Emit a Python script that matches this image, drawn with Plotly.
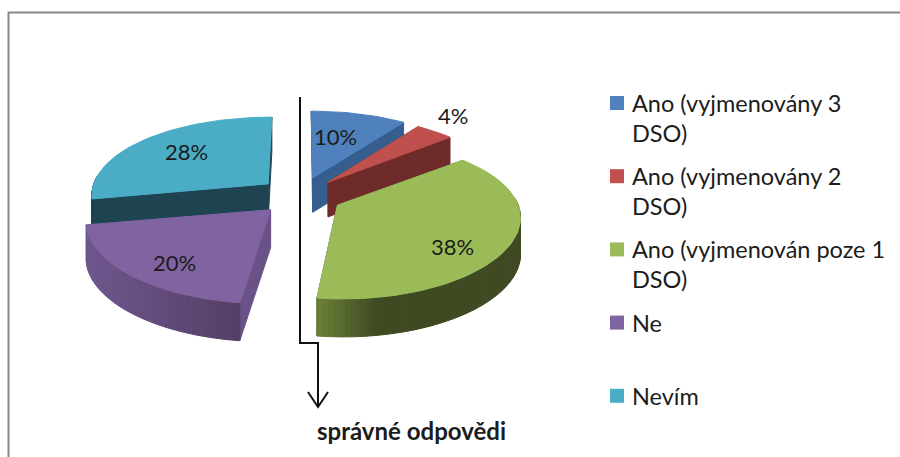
import math
import plotly.graph_objects as go

# ---------- data ----------
categories = ["Ano (vyjmenovány 3 DSO)", "Ano (vyjmenovány 2 DSO)",
              "Ano (vyjmenován poze 1 DSO)", "Ne", "Nevím"]
values = [10, 4, 38, 20, 28]
legend_lines = [["Ano (vyjmenovány 3", "DSO)"], ["Ano (vyjmenovány 2", "DSO)"],
                ["Ano (vyjmenován poze 1", "DSO)"], ["Ne"], ["Nevím"]]
value_labels = ["10%", "4%", "38%", "20%", "28%"]

# ---------- style ----------
top_colors = ["#4f81bd", "#c0504d", "#9bbb59", "#8064a2", "#4bacc6"]
cut_colors = ["#355e8e", "#6f2a2a", "#4a5a2a", "#6a5288", "#1f4451"]
wall_light = ["#355e8e", "#6f2a2a", "#6c8239", "#6f568e", "#1f4451"]
wall_dark = ["#355e8e", "#6f2a2a", "#3f4a23", "#553f66", "#1f4451"]
label_pos = [(335, 136), (453, 115), (452, 246), (174, 262), (186, 151)]
draw_order = [4, 0, 1, 2, 3]
CX, CY = 300, 196      # pie centre
RX, RY = 178, 78       # radii
PERSP_X = 0.13         # perspective strength, horizontal
PERSP_Y = 0.168        # perspective strength, vertical
PULL_X, PULL_Y = 42, 19
TXT = "#1c1c1c"
FONT = "Lato"


def project(theta, wx, wy, shift):
    s, c = math.sin(theta), math.cos(theta)
    k = 1 + PERSP_X * (c + shift)
    return CX + (wx + RX * s - CX) / k, wy - RY * c / (1 + PERSP_Y * c)


def depth(theta):
    return 36 - 2 * math.cos(theta)


def mix(a, b, t):
    ca = [int(a[i:i + 2], 16) for i in (1, 3, 5)]
    cb = [int(b[i:i + 2], 16) for i in (1, 3, 5)]
    return "#%02x%02x%02x" % tuple(round(x + (y - x) * t) for x, y in zip(ca, cb))


def poly(fig, xs, ys, color):
    fig.add_trace(go.Scatter(x=xs + xs[:1], y=ys + ys[:1], mode="lines", fill="toself",
                             fillcolor=color, line=dict(color=color, width=1),
                             showlegend=False, hoverinfo="skip"))


fig = go.Figure()

total = sum(values)
bounds = [0]
for v in values:
    bounds.append(bounds[-1] + v / total * 2 * math.pi)

for i in draw_order:
    a0, a1 = bounds[i], bounds[i + 1]
    mid = (a0 + a1) / 2
    wx = CX + PULL_X * math.sin(mid)
    wy = CY - PULL_Y * math.cos(mid)
    shift = PULL_Y / RY * math.cos(mid)
    ax = CX + (wx - CX) / (1 + PERSP_X * shift)
    ay = wy
    # cut walls
    for a in (a0, a1):
        x, y = project(a, wx, wy, shift)
        d = depth(a)
        poly(fig, [ax, x, x, ax], [ay, y, y + d, ay + d], cut_colors[i])
    # outer wall, as shaded strips
    n = max(2, int((a1 - a0) / math.radians(1.5)))
    for j in range(n):
        t0 = a0 + (a1 - a0) * j / n
        t1 = a0 + (a1 - a0) * (j + 1) / n
        if math.cos((t0 + t1) / 2) > 0.1:
            continue
        x0, y0 = project(t0, wx, wy, shift)
        x1, y1 = project(t1, wx, wy, shift)
        if i == 2:
            col = mix(wall_light[i], wall_dark[i], max(0, min(1, (x0 - 318) / 60)))
        elif i == 3:
            col = mix(wall_light[i], wall_dark[i], max(0, min(1, (x0 - 90) / 150)))
        else:
            col = wall_dark[i]
        poly(fig, [x0, x1, x1, x0], [y0, y1, y1 + depth(t1), y0 + depth(t0)], col)
    # top face
    n = max(4, int((a1 - a0) / math.radians(2)))
    pts = [project(a0 + (a1 - a0) * j / n, wx, wy, shift) for j in range(n + 1)]
    poly(fig, [ax] + [p[0] for p in pts], [ay] + [p[1] for p in pts], top_colors[i])

annotations = []
for (x, y), t in zip(label_pos, value_labels):
    annotations.append(dict(x=x, y=y, text=t, showarrow=False, xanchor="center", yanchor="middle",
                            font=dict(family=FONT, size=22, color=TXT)))

# legend
LEG_Y0, LEG_STEP, LINE_H = 103, 73.2, 30
for i, lines in enumerate(legend_lines):
    y = LEG_Y0 + LEG_STEP * i
    fig.add_trace(go.Scatter(x=[617], y=[y], mode="markers", showlegend=False, hoverinfo="skip",
                             marker=dict(symbol="square", size=14, color=top_colors[i])))
    for k, line in enumerate(lines):
        annotations.append(dict(x=630, y=y + k * LINE_H, text=line, showarrow=False,
                                xanchor="left", yanchor="middle",
                                font=dict(family=FONT, size=23.5, color=TXT)))

annotations.append(dict(x=411, y=430, text="<b>správné odpovědi</b>", showarrow=False,
                        xanchor="center", yanchor="middle",
                        font=dict(family=FONT, size=24, color=TXT)))

shapes = [
    dict(type="path", path="M300,97 V343 H318 V406", line=dict(color="#111111", width=2)),
    dict(type="path", path="M308,392 L318,407 L328,392", line=dict(color="#111111", width=2)),
    dict(type="path", path="M8.5,460 V12.5 H902", line=dict(color="#888888", width=2)),
]

fig.update_layout(
    width=900, height=457, margin=dict(l=0, r=0, t=0, b=0),
    paper_bgcolor="white", plot_bgcolor="white", showlegend=False,
    xaxis=dict(range=[0, 900], visible=False, fixedrange=True),
    yaxis=dict(range=[457, 0], visible=False, fixedrange=True),
    annotations=annotations, shapes=shapes,
)
fig.write_html("out.html", config=dict(displayModeBar=False),
               post_script="document.body.style.margin='0';document.body.style.overflow='hidden';")
